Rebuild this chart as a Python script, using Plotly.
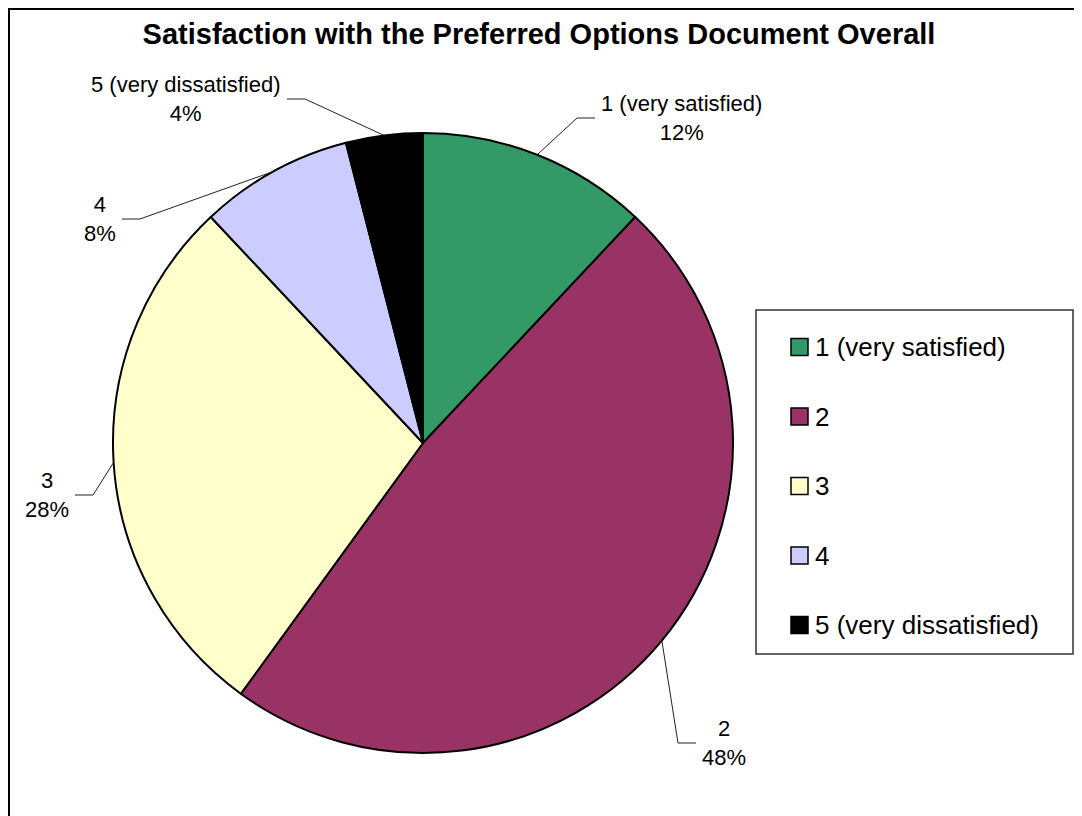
import math
import plotly.graph_objects as go

# ---------------- data ----------------
categories = ["1 (very satisfied)", "2", "3", "4", "5 (very dissatisfied)"]
values = [12, 48, 28, 8, 4]
colors = ["#339966", "#993366", "#FFFFCC", "#CCCCFF", "#000000"]
title_text = "Satisfaction with the Preferred Options Document Overall"

# ---------------- layout constants (page pixels) ----------------
W, H = 1082, 816
PAGE_OFF = 8                        # body margin of the html page
CX, CY, R = 423, 443, 310           # pie centre / radius
# elbow points of the leader lines (label placement)
ELBOWS = [(577, 118), (678, 743), (93, 495), (140, 219), (305, 99)]
SEG = 18                            # horizontal leader segment length
GAP = 4                             # gap between leader and label text
FONT = "Arial, Liberation Sans, sans-serif"


def fx(x):
    return (x - PAGE_OFF) / W


def fy(y):
    return 1 - (y - PAGE_OFF) / H


fig = go.Figure()

fig.add_trace(go.Pie(
    labels=categories,
    values=values,
    sort=False,
    direction="clockwise",
    rotation=0,
    marker=dict(colors=colors, line=dict(color="#000000", width=2)),
    textinfo="none",
    hoverinfo="label+percent",
    showlegend=False,
    domain=dict(x=[fx(CX - R), fx(CX + R)], y=[fy(CY + R), fy(CY - R)]),
))

shapes = []
annotations = []

# frame around the chart area
shapes.append(dict(type="rect", xref="paper", yref="paper",
                   x0=fx(9), x1=fx(W + 40), y0=fy(H + 40), y1=fy(9),
                   line=dict(color="#000000", width=2), fillcolor="rgba(0,0,0,0)",
                   layer="below"))

# data labels with elbow leader lines (anchored on slice mid-angle edge point)
total = sum(values)
cum = 0
for i, (cat, v) in enumerate(zip(categories, values)):
    mid = (cum + v / 2) / total * 2 * math.pi
    cum += v
    ex = CX + R * math.sin(mid)
    ey = CY - R * math.cos(mid)
    bx, by = ELBOWS[i]
    right = math.sin(mid) >= 0
    hx = bx + SEG if right else bx - SEG
    path = f"M {fx(ex)},{fy(ey)} L {fx(bx)},{fy(by)} L {fx(hx)},{fy(by)}"
    shapes.append(dict(type="path", xref="paper", yref="paper", path=path,
                       line=dict(color="#222222", width=1)))
    tx = hx + GAP if right else hx - GAP
    annotations.append(dict(
        x=fx(tx), y=fy(by), xref="paper", yref="paper",
        xanchor="left" if right else "right", yanchor="middle",
        text=f"{cat}<br>{v / total * 100:.0f}%", showarrow=False,
        align="center", font=dict(family=FONT, size=22, color="#000000"),
    ))

# legend box (drawn to match the reference's large swatches / spacing)
LX0, LX1, LY0, LY1 = 756, 1073, 310, 654
shapes.append(dict(type="rect", xref="paper", yref="paper",
                   x0=fx(LX0), x1=fx(LX1), y0=fy(LY1), y1=fy(LY0),
                   line=dict(color="#333333", width=1.5), fillcolor="#FFFFFF"))
ITEM0, STEP, SW = 347, 69.5, 17
for i, (cat, c) in enumerate(zip(categories, colors)):
    yc = ITEM0 + i * STEP
    shapes.append(dict(type="rect", xref="paper", yref="paper",
                       x0=fx(791), x1=fx(791 + SW), y0=fy(yc + SW / 2), y1=fy(yc - SW / 2),
                       line=dict(color="#000000", width=1.5), fillcolor=c))
    annotations.append(dict(
        x=fx(813), y=fy(yc), xref="paper", yref="paper",
        xanchor="left", yanchor="middle", text=cat, showarrow=False,
        font=dict(family=FONT, size=26, color="#000000"),
    ))

fig.update_layout(
    width=W, height=H,
    margin=dict(l=0, r=0, t=0, b=0),
    paper_bgcolor="#FFFFFF",
    plot_bgcolor="#FFFFFF",
    title=dict(text=f"<b>{title_text}</b>", x=fx(539), y=fy(34),
               xref="paper", yref="paper", xanchor="center", yanchor="middle",
               font=dict(family=FONT, size=29, color="#000000")),
    shapes=shapes,
    annotations=annotations,
    showlegend=False,
)

fig.write_html("out.html")
